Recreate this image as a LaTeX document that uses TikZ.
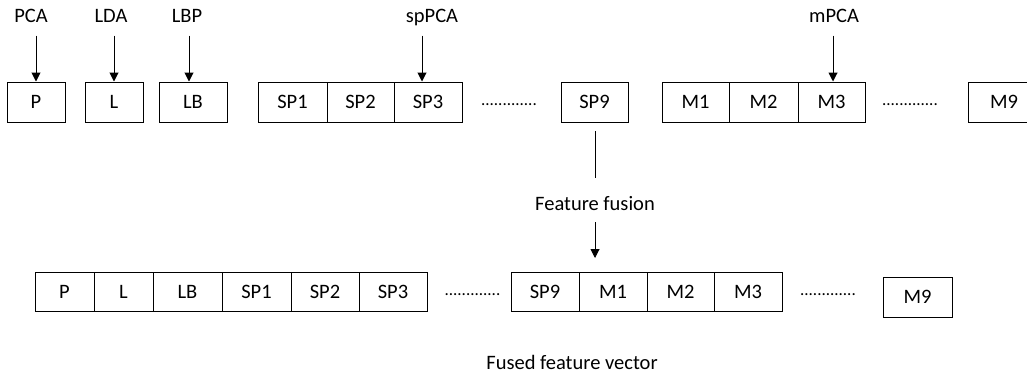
\documentclass[tikz,border=0pt]{standalone}
\usepackage{fontspec}
\setmainfont{Carlito}
\usetikzlibrary{arrows.meta}
\tikzset{
  cell/.style={draw, line width=1pt, minimum height=40pt, inner sep=0pt,
               font=\fontsize{20.5}{24}\selectfont},
  lbl/.style={anchor=base, inner sep=0pt, font=\fontsize{20.5}{24}\selectfont},
  dots/.style={anchor=base, inner sep=0pt, font=\fontsize{17}{20}\selectfont},
  arr/.style={line width=1pt, -{Triangle[length=9pt,width=9pt]}},
  plain/.style={line width=1pt}
}
\begin{document}
\begin{tikzpicture}[x=1pt,y=-1pt]
\clip (0,0) rectangle (1027,376);

% upper row: the single feature vectors
\node[cell, minimum width=58pt] (p)   at (36,102)    {P};
\node[cell, minimum width=58pt] (l)   at (114,102)   {L};
\node[cell, minimum width=68pt] (lb)  at (193,102)   {LB};
\node[cell, minimum width=69pt] (sp1) at (292.5,102) {SP1};
\node[cell, minimum width=67pt] (sp2) at (360.5,102) {SP2};
\node[cell, minimum width=68pt] (sp3) at (428,102)   {SP3};
\node[dots] (d1) at (509,105) {.............};
\node[cell, minimum width=67pt] (sp9) at (594.5,102) {SP9};
\node[cell, minimum width=67pt] (m1)  at (695.5,102) {M1};
\node[cell, minimum width=69pt] (m2)  at (763.5,102) {M2};
\node[cell, minimum width=67pt] (m3)  at (831.5,102) {M3};
\node[dots] (d2) at (910,105) {.............};
\node[cell, minimum width=72pt] (m9)  at (1004,102)  {M9};

% method labels and their arrows
\node[lbl] (pca)   at (31,22)  {PCA};
\node[lbl] (lda)   at (111,22) {LDA};
\node[lbl] (lbp)   at (187,22) {LBP};
\node[lbl] (sppca) at (432,22) {spPCA};
\node[lbl] (mpca)  at (834,22) {mPCA};
\draw[arr] (p.north)   ++(0,-46) -- (p.north);
\draw[arr] (l.north)   ++(0,-46) -- (l.north);
\draw[arr] (lb.north)  ++(-4,-46) -- ++(0,46);
\draw[arr] (sp3.north) ++(-6,-46) -- ++(0,46);
\draw[arr] (m3.north)  ++(1.5,-46) -- ++(0,46);

% fusion step
\coordinate (fa) at (595,131);
\coordinate (fb) at (595,178);
\draw[plain] (fa) -- (fb);
\node[lbl] (ff) at (595,210) {Feature fusion};
\coordinate (fc) at (595,222);
\coordinate (fd) at (595,258);
\draw[arr] (fc) -- (fd);

% lower row: the fused feature vector
\node[cell, minimum width=59pt, minimum height=39pt] (bp)   at (64.5,291.5)  {P};
\node[cell, minimum width=59pt, minimum height=39pt] (bl)   at (123.5,291.5) {L};
\node[cell, minimum width=69pt, minimum height=39pt] (blb)  at (187.5,291.5) {LB};
\node[cell, minimum width=69pt, minimum height=39pt] (bsp1) at (256.5,291.5) {SP1};
\node[cell, minimum width=68pt, minimum height=39pt] (bsp2) at (325,291.5)   {SP2};
\node[cell, minimum width=68pt, minimum height=39pt] (bsp3) at (393,291.5)   {SP3};
\node[dots] (d3) at (472.5,295) {.............};
\node[cell, minimum width=68pt, minimum height=39pt] (bsp9) at (545,291.5)   {SP9};
\node[cell, minimum width=68pt, minimum height=39pt] (bm1)  at (613,291.5)   {M1};
\node[cell, minimum width=67pt, minimum height=39pt] (bm2)  at (680.5,291.5) {M2};
\node[cell, minimum width=68pt, minimum height=39pt] (bm3)  at (748,291.5)   {M3};
\node[dots] (d4) at (828,295) {.............};
\node[cell, minimum width=69pt, minimum height=40pt] (bm9)  at (917.5,297)   {M9};

\node[lbl] (fv) at (572,369) {Fused feature vector};
\end{tikzpicture}
\end{document}
